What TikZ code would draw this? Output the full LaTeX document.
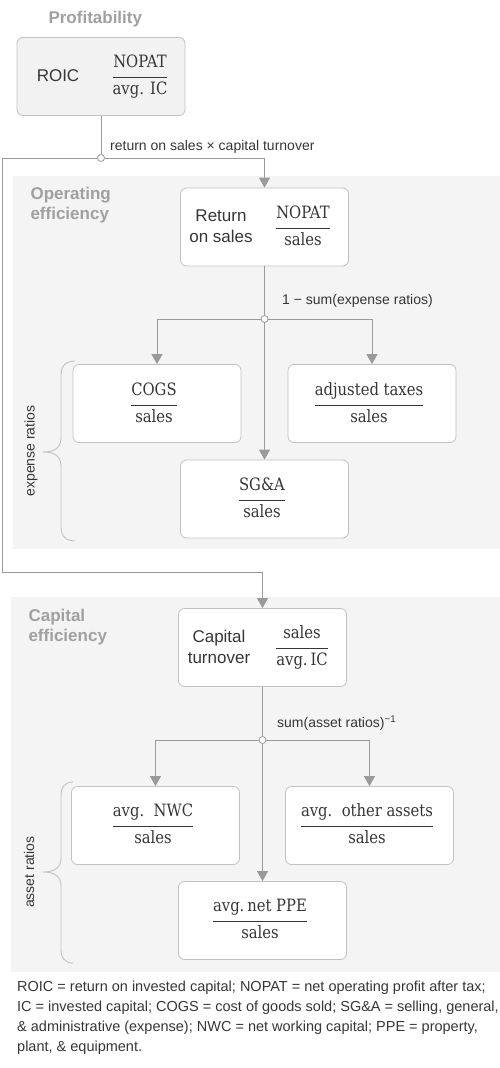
\documentclass[tikz,border=0pt]{standalone}
\usepackage{fontspec}
\setmainfont{Liberation Sans}
\newfontfamily\fracfont[FakeStretch=0.87]{DejaVu Serif}
\usepackage{tikz}
\usetikzlibrary{arrows.meta}

\definecolor{ink}{HTML}{363636}
\definecolor{headgray}{HTML}{A0A0A0}
\definecolor{linkgray}{HTML}{9A9A9A}
\definecolor{boxline}{HTML}{C2C2C2}
\definecolor{panel}{HTML}{F4F4F4}
\definecolor{roicfill}{HTML}{F2F2F2}

\setlength{\arrayrulewidth}{1.2pt}
\newcommand{\frc}[2]{\begin{tabular}{@{}c@{}}#1\\[4pt]\hline\rule{0pt}{16pt}#2\end{tabular}}

\tikzset{
  box/.style={draw=boxline, rounded corners=6pt, fill=white, line width=0.8pt,
    minimum width=168pt, minimum height=78pt, inner sep=0pt},
  link/.style={draw=linkgray, line width=1pt},
  arr/.style={link, -{Triangle[length=10pt,width=11pt]}},
  dot/.style={circle, draw=linkgray, fill=white, line width=0.8pt, inner sep=0pt, minimum size=7pt},
  head/.style={font=\fontsize{17}{20}\selectfont\bfseries, text=headgray, align=left, anchor=west},
  boxtext/.style={font=\fontsize{17}{21}\selectfont, text=ink, align=center},
  ratio/.style={font=\fontsize{17}{19}\selectfont\fracfont, text=ink, inner sep=0pt},
  tag/.style={font=\fontsize{14}{16}\selectfont, text=ink, anchor=west, inner sep=0pt},
  side/.style={font=\fontsize{14}{16}\selectfont, text=ink, rotate=90, inner sep=0pt},
  brace/.style={draw=boxline, line width=0.9pt},
  note/.style={font=\fontsize{14.5}{20}\selectfont, text=ink, align=left, anchor=north west, inner sep=0pt},
}

\begin{document}
\begin{tikzpicture}[x=1pt,y=-1pt]
\useasboundingbox (0,0) rectangle (500,1068);

% panels
\fill[panel] (13,176) rectangle (500,549);
\fill[panel] (11,597) rectangle (500,972);

% profitability
\node[head] (hprof) at (45,19) {Profitability};
\node[box, fill=roicfill] (roic) at (101,76.5) {};
\node[boxtext] (roictxt) at (58,76) {ROIC};
\node[ratio] (roicfrc) at (140,77) {\frc{NOPAT}{avg. IC}};

\node[dot] (j0) at (101,158) {};
\node[tag] (lprod) at (110,147) {return on sales × capital turnover};
\coordinate (bendA) at (2,158);
\coordinate (bendB) at (2,572);

% operating efficiency
\node[head] (hop) at (27,205) {Operating\\efficiency};
\node[box] (ros) at (264.5,227) {};
\node[boxtext] (rostxt) at (221,226.5) {Return\\on sales};
\node[ratio] (rosfrc) at (303,228) {\frc{NOPAT}{sales}};

\node[dot] (j1) at (264.5,319) {};
\node[tag] (lexp) at (282,301) {1 − sum(expense ratios)};

\node[box] (cogs) at (157,403.5) {};
\node[ratio] (cogsfrc) at (154,405) {\frc{COGS}{sales}};
\node[box] (tax) at (372,403.5) {};
\node[ratio] (taxfrc) at (369,405) {\frc{adjusted taxes}{sales}};
\node[box] (sga) at (264.5,499) {};
\node[ratio] (sgafrc) at (262,500) {\frc{SG\&A}{sales}};

\draw[brace] (75,361) .. controls (66,361) and (61,366) .. (61,375) -- (61,438)
  .. controls (61,448) and (54,452) .. (43,452) .. controls (54,452) and (61,456) .. (61,466)
  -- (61,527) .. controls (61,536) and (66,541) .. (75,541);
\node[side] (lexpr) at (31,451) {expense ratios};

% capital efficiency
\node[head] (hcap) at (25,627) {Capital\\efficiency};
\node[box] (cap) at (262.5,647.5) {};
\node[boxtext] (captxt) at (219,647) {Capital\\turnover};
\node[ratio] (capfrc) at (302,648) {\frc{sales}{avg.\,IC}};

\node[dot] (j2) at (262.5,740) {};
\node[tag] (lasset) at (277,723) {sum(asset ratios)\textsuperscript{−1}};

\node[box] (nwc) at (155.5,825.5) {};
\node[ratio] (nwcfrc) at (153,826) {\frc{avg.~~NWC}{sales}};
\node[box] (oth) at (369.5,825.5) {};
\node[ratio] (othfrc) at (367,826) {\frc{avg.~~other assets}{sales}};
\node[box] (ppe) at (262.5,920.5) {};
\node[ratio] (ppefrc) at (260,921) {\frc{avg.\,net PPE}{sales}};

\draw[brace] (73,782) .. controls (65,782) and (61,787) .. (61,796) -- (61,858)
  .. controls (61,868) and (54,872) .. (43,872) .. controls (54,872) and (61,876) .. (61,886)
  -- (61,949) .. controls (61,958) and (65,963) .. (73,963);
\node[side] (lassr) at (29,872) {asset ratios};

% connectors
\draw[link] (roic) -- (j0);
\draw[arr] (j0) -| (ros);
\draw[arr] (j0) -- (bendA) -- (bendB) -| (cap);
\draw[link] (ros) -- (j1);
\draw[arr] (j1) -| (cogs);
\draw[arr] (j1) -| (tax);
\draw[arr] (j1) -- (sga);
\draw[link] (cap) -- (j2);
\draw[arr] (j2) -| (nwc);
\draw[arr] (j2) -| (oth);
\draw[arr] (j2) -- (ppe);

% footnote
\node[note] (foot) at (17,981) {ROIC = return on invested capital; NOPAT = net operating profit after tax;\\
IC = invested capital; COGS = cost of goods sold; SG\&A = selling, general,\\
\& administrative (expense); NWC = net working capital; PPE = property,\\
plant, \& equipment.};
\end{tikzpicture}
\end{document}
